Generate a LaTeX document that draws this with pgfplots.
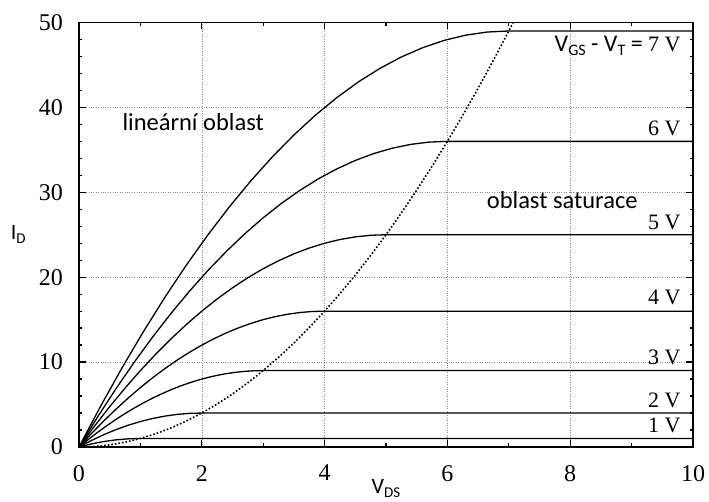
\documentclass[border=0pt]{standalone}
\usepackage{fontspec}
\setmainfont{Liberation Serif}
\newfontfamily\sans{Carlito}
\usepackage{pgfplots}
\pgfplotsset{compat=1.18}

\begin{document}
\begin{tikzpicture}
\begin{axis}[
  scale only axis,
  width=614pt, height=424.5pt,
  xmin=0, xmax=10, ymin=0, ymax=50,
  xtick={0,2,...,10}, ytick={0,10,...,50},
  xticklabels={}, yticklabels={},
  minor x tick num=1, minor y tick num=4,
  tick align=inside,
  major tick length=7pt, minor tick length=3.5pt,
  every tick/.style={black, line width=1.3pt},
  axis line style={line width=1.6pt},
  grid=major,
  major grid style={black!45, dotted, line width=0.6pt},
  clip=false,
]
% output characteristics I_D = 2 k V_DS - V_DS^2 up to V_DS = k, then k^2
\addplot[black, line width=1.3pt] coordinates {(0,0)(0.35,4.7775)(0.7,9.31)(1.05,13.5975)(1.4,17.64)(1.75,21.4375)(2.1,24.99)(2.45,28.2975)(2.8,31.36)(3.15,34.1775)(3.5,36.75)(3.85,39.0775)(4.2,41.16)(4.55,42.9975)(4.9,44.59)(5.25,45.9375)(5.6,47.04)(5.95,47.8975)(6.3,48.51)(6.65,48.8775)(7,49)(10,49)};
\addplot[black, line width=1.3pt] coordinates {(0,0)(0.3,3.51)(0.6,6.84)(0.9,9.99)(1.2,12.96)(1.5,15.75)(1.8,18.36)(2.1,20.79)(2.4,23.04)(2.7,25.11)(3,27)(3.3,28.71)(3.6,30.24)(3.9,31.59)(4.2,32.76)(4.5,33.75)(4.8,34.56)(5.1,35.19)(5.4,35.64)(5.7,35.91)(6,36)(10,36)};
\addplot[black, line width=1.3pt] coordinates {(0,0)(0.25,2.4375)(0.5,4.75)(0.75,6.9375)(1,9)(1.25,10.9375)(1.5,12.75)(1.75,14.4375)(2,16)(2.25,17.4375)(2.5,18.75)(2.75,19.9375)(3,21)(3.25,21.9375)(3.5,22.75)(3.75,23.4375)(4,24)(4.25,24.4375)(4.5,24.75)(4.75,24.9375)(5,25)(10,25)};
\addplot[black, line width=1.3pt] coordinates {(0,0)(0.2,1.56)(0.4,3.04)(0.6,4.44)(0.8,5.76)(1,7)(1.2,8.16)(1.4,9.24)(1.6,10.24)(1.8,11.16)(2,12)(2.2,12.76)(2.4,13.44)(2.6,14.04)(2.8,14.56)(3,15)(3.2,15.36)(3.4,15.64)(3.6,15.84)(3.8,15.96)(4,16)(10,16)};
\addplot[black, line width=1.3pt] coordinates {(0,0)(0.15,0.8775)(0.3,1.71)(0.45,2.4975)(0.6,3.24)(0.75,3.9375)(0.9,4.59)(1.05,5.1975)(1.2,5.76)(1.35,6.2775)(1.5,6.75)(1.65,7.1775)(1.8,7.56)(1.95,7.8975)(2.1,8.19)(2.25,8.4375)(2.4,8.64)(2.55,8.7975)(2.7,8.91)(2.85,8.9775)(3,9)(10,9)};
\addplot[black, line width=1.3pt] coordinates {(0,0)(0.2,0.76)(0.4,1.44)(0.6,2.04)(0.8,2.56)(1,3)(1.2,3.36)(1.4,3.64)(1.6,3.84)(1.8,3.96)(2,4)(10,4)};
\addplot[black, line width=1.3pt] coordinates {(0,0)(0.2,0.36)(0.4,0.64)(0.6,0.84)(0.8,0.96)(1,1)(10,1)};
% boundary of saturation V_DS = V_GS - V_T
\addplot[black, dotted, line width=1.6pt] coordinates {(0,0)(0.25,0.0625)(0.5,0.25)(0.75,0.5625)(1,1)(1.25,1.5625)(1.5,2.25)(1.75,3.0625)(2,4)(2.25,5.0625)(2.5,6.25)(2.75,7.5625)(3,9)(3.25,10.5625)(3.5,12.25)(3.75,14.0625)(4,16)(4.25,18.0625)(4.5,20.25)(4.75,22.5625)(5,25)(5.25,27.5625)(5.5,30.25)(5.75,33.0625)(6,36)(6.25,39.0625)(6.5,42.25)(6.75,45.5625)(7,49)(7.07,49.98)};

% tick numbers
\begin{scope}[every node/.style={inner sep=0pt, font=\rmfamily\fontsize{24}{26}\selectfont}]
\node[anchor=north, yshift=-18pt] at (axis cs:0,0) {0};
\node[anchor=north, yshift=-18pt] at (axis cs:2,0) {2};
\node[anchor=north, yshift=-18pt] at (axis cs:4,0) {4};
\node[anchor=north, yshift=-18pt] at (axis cs:6,0) {6};
\node[anchor=north, yshift=-18pt] at (axis cs:8,0) {8};
\node[anchor=north, yshift=-18pt] at (axis cs:10,0) {10};
\node[anchor=east, xshift=-16pt] at (axis cs:0,0) {0};
\node[anchor=east, xshift=-16pt] at (axis cs:0,10) {10};
\node[anchor=east, xshift=-16pt] at (axis cs:0,20) {20};
\node[anchor=east, xshift=-16pt] at (axis cs:0,30) {30};
\node[anchor=east, xshift=-16pt] at (axis cs:0,40) {40};
\node[anchor=east, xshift=-16pt] at (axis cs:0,50) {50};
\end{scope}

% curve labels
\begin{scope}[every node/.style={anchor=east, inner sep=0pt, font=\fontsize{22}{24}\selectfont}]
\node at (axis cs:9.8,47.3) {{\sans\fontsize{24}{26}\selectfont V\raisebox{-0.35ex}{\fontsize{16}{16}\selectfont GS} - V\raisebox{-0.35ex}{\fontsize{16}{16}\selectfont T} = }7 V};
\node at (axis cs:9.8,37.5) {6 V};
\node at (axis cs:9.8,26.5) {5 V};
\node at (axis cs:9.8,17.6) {4 V};
\node at (axis cs:9.8,10.6) {3 V};
\node at (axis cs:9.8,5.5) {2 V};
\node at (axis cs:9.8,2.6) {1 V};
\end{scope}
\node[font=\sans\fontsize{24.5}{26}\selectfont] at (axis cs:1.86,38.3) {lineární oblast};
\node[font=\sans\fontsize{24.5}{26}\selectfont] at (axis cs:7.87,29.1) {oblast saturace};
% axis titles
\node[font=\sans\fontsize{22}{24}\selectfont] at (axis description cs:-0.099,0.5) {I\raisebox{-0.35ex}{\fontsize{15}{15}\selectfont D}};
\node[font=\sans\fontsize{22}{24}\selectfont] at (axis description cs:0.5,-0.097) {V\raisebox{-0.35ex}{\fontsize{15}{15}\selectfont DS}};
\end{axis}
\pgfresetboundingbox
\path[use as bounding box] ([xshift=-79pt,yshift=-55pt]current axis.south west) rectangle ([xshift=16pt,yshift=22.5pt]current axis.north east);
\end{tikzpicture}
\end{document}
